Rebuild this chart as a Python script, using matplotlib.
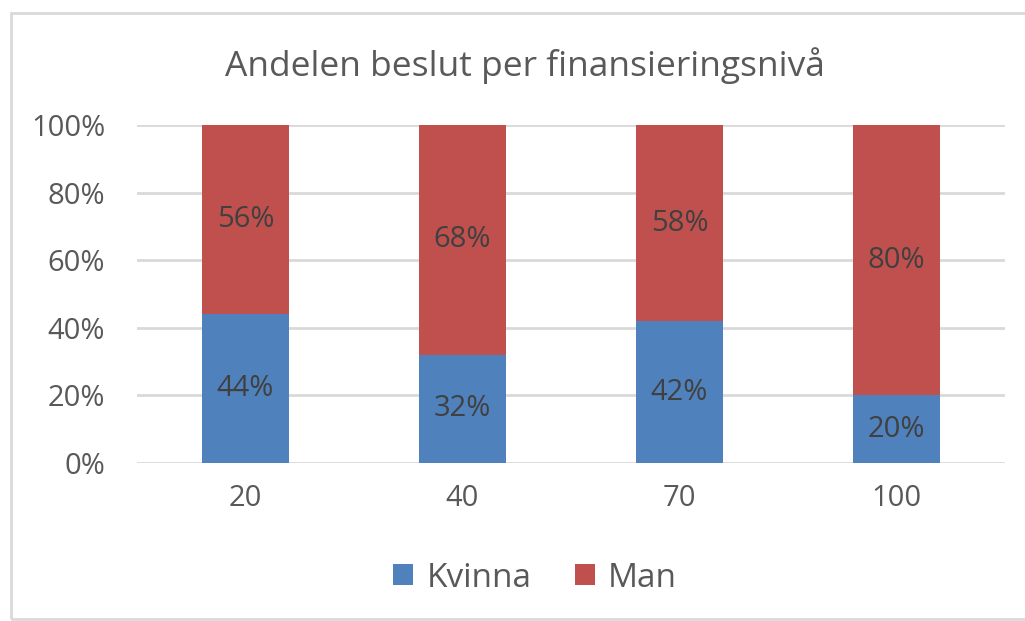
import matplotlib.pyplot as plt
from matplotlib.patches import Rectangle

categories = ['20', '40', '70', '100']
kvinna = [44, 32, 42, 20]
man = [56, 68, 58, 80]
yticks = [0, 20, 40, 60, 80, 100]

blue = '#4F81BD'
red = '#C0504D'
text_col = '#595959'

plt.rcParams['font.family'] = ['Open Sans', 'DejaVu Sans']

fig = plt.figure(figsize=(10.25, 6.21), dpi=100)
ax = fig.add_axes([0.1337, 0.2544, 0.8468, 0.5443])

# chart frame (right edge runs off the picture)
fig.patches.append(Rectangle((11 / 1025, 2 / 621), 1030 / 1025, 606 / 621,
                             transform=fig.transFigure, fill=False,
                             edgecolor='#D9D9D9', linewidth=2))

x = list(range(len(categories)))
b1 = ax.bar(x, kvinna, width=0.4, color=blue, label='Kvinna', zorder=3)
b2 = ax.bar(x, man, width=0.4, bottom=kvinna, color=red, label='Man', zorder=3)

for i in x:
    ax.text(i, kvinna[i] / 2, f'{kvinna[i]}%', ha='center', va='center',
            fontsize=21, color='#404040', zorder=4)
    ax.text(i, kvinna[i] + man[i] / 2, f'{man[i]}%', ha='center', va='center',
            fontsize=21, color='#404040', zorder=4)

ax.set_xlim(-0.5, len(categories) - 0.5)
ax.set_ylim(0, 100)
ax.set_yticks(yticks)
ax.set_yticklabels([f'{t}%' for t in yticks])
ax.set_xticks(x)
ax.set_xticklabels(categories)
ax.tick_params(axis='both', length=0, labelsize=21, colors=text_col)
ax.tick_params(axis='y', pad=23)
ax.tick_params(axis='x', pad=15)
ax.grid(axis='y', color='#D9D9D9', linewidth=2, zorder=0)
ax.set_axisbelow(True)
for s in ax.spines.values():
    s.set_visible(False)

fig.text(0.512, 0.895, 'Andelen beslut per finansieringsnivå', ha='center',
         va='center', fontsize=25.5, color=text_col)

fig.legend(handles=[b1, b2], loc='center', bbox_to_anchor=(0.522, 0.069),
           ncol=2, frameon=False, fontsize=24, handlelength=0.6,
           handleheight=0.6, handletextpad=0.4, columnspacing=1.3,
           labelcolor=text_col)

fig.savefig('out.png', dpi=100)
